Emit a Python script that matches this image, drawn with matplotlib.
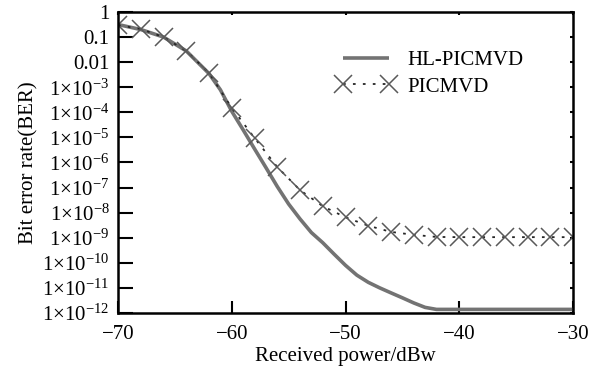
import matplotlib
matplotlib.use("Agg")
import matplotlib.pyplot as plt
from matplotlib.ticker import FixedLocator, NullLocator

plt.rcParams['font.family'] = ['Liberation Serif', 'DejaVu Serif']
plt.rcParams['mathtext.fontset'] = 'custom'
plt.rcParams['mathtext.rm'] = 'Liberation Serif'
plt.rcParams['mathtext.it'] = 'Liberation Serif:italic'

# HL-PICMVD (solid)
hl_x = [-70, -68, -66, -64, -62, -61, -60, -59, -58, -57, -56, -55, -54, -53, -52,
        -51, -50, -49, -48, -47, -46, -45, -44, -43, -42, -30]
hl_ber = [3.16e-1, 2.0e-1, 1.0e-1, 2.8e-2, 3.5e-3, 7.9e-4, 1.1e-4, 2.0e-5, 3.5e-6,
          6.3e-7, 1.1e-7, 2.2e-8, 5.6e-9, 1.6e-9, 6.3e-10, 2.2e-10, 7.9e-11, 3.2e-11,
          1.66e-11, 1.0e-11, 6.3e-12, 4.0e-12, 2.5e-12, 1.66e-12, 1.38e-12, 1.38e-12]

# PICMVD (markers)
pic_x = [-70, -68, -66, -64, -62, -60, -58, -56, -54, -52, -50, -48, -46, -44, -42,
         -40, -38, -36, -34, -32, -30]
pic_ber = [3.0e-1, 2.1e-1, 1.0e-1, 2.8e-2, 3.7e-3, 1.5e-4, 9.5e-6, 6.6e-7, 7.9e-8,
           1.8e-8, 6.5e-9, 3.0e-9, 1.7e-9, 1.3e-9, 1.07e-9,
           1.05e-9, 1.05e-9, 1.05e-9, 1.05e-9, 1.05e-9, 1.05e-9]

ytick_vals = [1, 1e-1, 1e-2, 1e-3, 1e-4, 1e-5, 1e-6, 1e-7, 1e-8, 1e-9, 1e-10, 1e-11, 1e-12]
ytick_labels = ['1', '0.1', '0.01'] + [r'1$\times$10$^{-%d}$' % k for k in range(3, 13)]
xtick_vals = [-70, -60, -50, -40, -30]
xtick_labels = ['\u221270', '\u221260', '\u221250', '\u221240', '\u221230']

fig = plt.figure(figsize=(5.99, 3.69), dpi=100)
ax = fig.add_axes([0.197, 0.152, 0.7596, 0.8155])

ax.plot(hl_x, hl_ber, color='0.45', lw=2.6, solid_capstyle='butt',
        solid_joinstyle='round', label='HL-PICMVD')
ax.plot(pic_x, pic_ber, color='0.15', lw=1.3, linestyle=(0, (1.5, 4)),
        marker='x', markersize=13, markeredgecolor='0.35', markeredgewidth=1.1,
        label='PICMVD')

ax.set_yscale('log')
ax.set_xlim(-70, -30)
ax.set_ylim(1e-12, 1)

ax.yaxis.set_major_locator(FixedLocator(ytick_vals))
ax.yaxis.set_minor_locator(NullLocator())
ax.set_yticklabels(ytick_labels)
ax.xaxis.set_major_locator(FixedLocator(xtick_vals))
ax.set_xticklabels(xtick_labels)

ax.tick_params(axis='y', which='major', direction='in', length=11, width=1.5,
               labelsize=15, pad=6, right=True)
ax.tick_params(axis='x', which='major', direction='in', length=9, width=1.5,
               labelsize=15, pad=9, top=True)

for sp in ax.spines.values():
    sp.set_linewidth(1.8)

# shorter ticks on the right/top sides
for t in ax.yaxis.get_major_ticks():
    t.tick2line.set_markersize(2.5)
for t in ax.xaxis.get_major_ticks():
    t.tick2line.set_markersize(2.5)

ax.set_xlabel('Received power/dBw', fontsize=15, labelpad=2)
ax.set_ylabel('Bit error rate(BER)', fontsize=15, labelpad=3)

ax.legend(loc='upper left', bbox_to_anchor=(0.44, 0.935), frameon=False, fontsize=15,
          numpoints=2, handlelength=2.8, handletextpad=0.6, labelspacing=0.35)

fig.savefig('out.png', dpi=100)
